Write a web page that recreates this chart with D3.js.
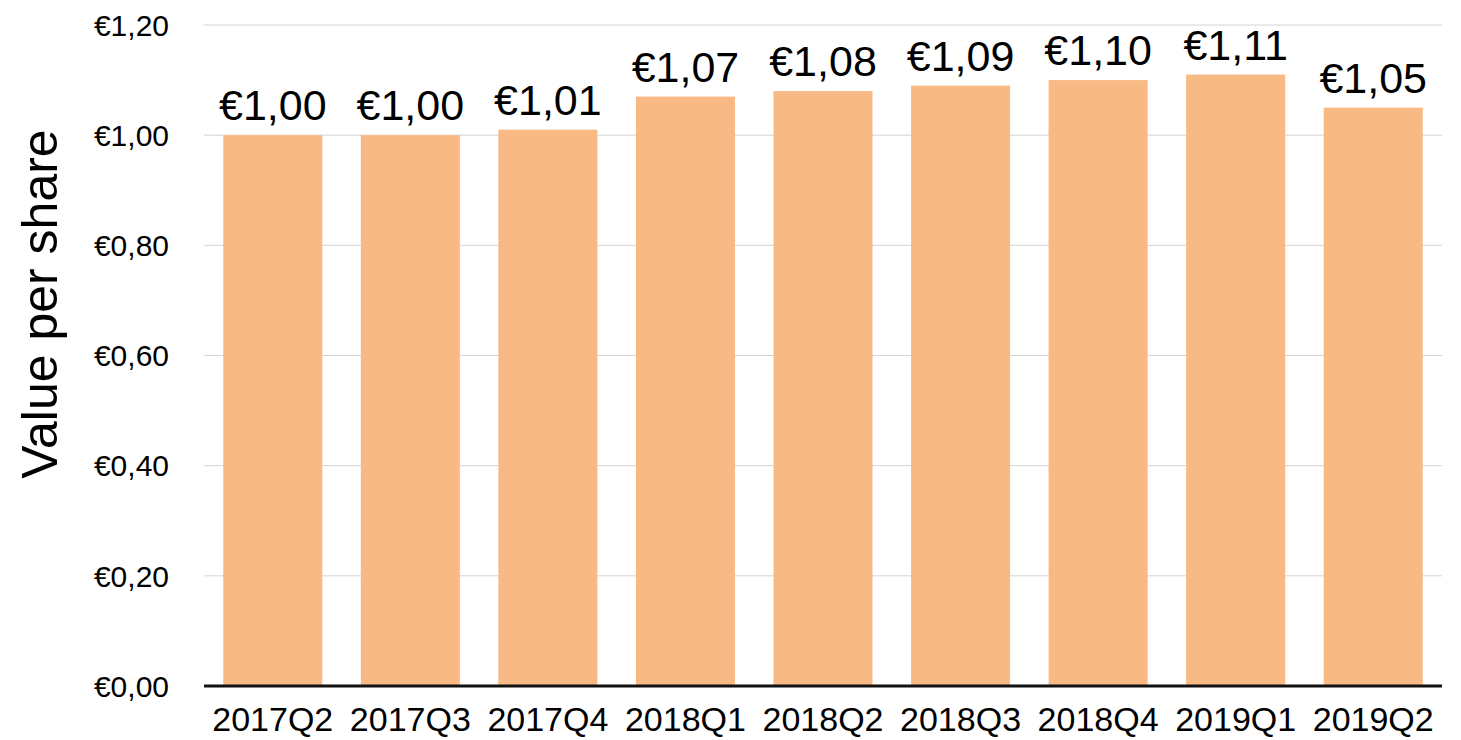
<!DOCTYPE html>
<html>
<head>
  <meta charset="utf-8">
  <title>Value per share</title>
  <style>
    body { margin: 0; background: #fff; }
    text { font-family: "Liberation Sans", Arial, sans-serif; }
  </style>
</head>
<body>
  <script src="https://d3js.org/d3.v7.min.js"></script>
  <script>
    var quarters = ['2017Q2', '2017Q3', '2017Q4', '2018Q1', '2018Q2', '2018Q3', '2018Q4', '2019Q1', '2019Q2'];
    var values = [1.00, 1.00, 1.01, 1.07, 1.08, 1.09, 1.10, 1.11, 1.05];
    var yTicks = [0, 0.2, 0.4, 0.6, 0.8, 1.0, 1.2];

    var width = 1461, height = 740;
    var margin = { top: 25, right: 19, bottom: 54, left: 204 };
    var w = width - margin.left - margin.right,
      h = height - margin.top - margin.bottom;

    var euro = d => '€' + d.toFixed(2).replace('.', ',');

    var x = d3.scaleBand().domain(quarters).range([0, w]).paddingInner(0.28).paddingOuter(0.14);
    var y = d3.scaleLinear().domain([0, 1.2]).range([h, 0]);

    var svg = d3.select('body').append('svg')
      .attr('width', width)
      .attr('height', height);

    var g = svg.append('g').attr('transform', `translate(${margin.left},${margin.top})`);

    // gridlines
    g.selectAll('.grid').data(yTicks).enter().append('line')
      .attr('x1', 0).attr('x2', w)
      .attr('y1', d => y(d)).attr('y2', d => y(d))
      .attr('stroke', '#d4d4d4').attr('stroke-width', 1);

    // y tick labels
    g.selectAll('.ytick').data(yTicks).enter().append('text')
      .attr('x', -35).attr('y', d => y(d)).attr('dy', '0.36em')
      .attr('text-anchor', 'end').attr('font-size', 30)
      .text(euro);

    // bars
    g.selectAll('rect').data(values).enter().append('rect')
      .attr('x', (d, i) => x(quarters[i]))
      .attr('y', d => y(d))
      .attr('width', x.bandwidth())
      .attr('height', d => y(0) - y(d))
      .attr('fill', '#f9b984');

    // value labels
    g.selectAll('.val').data(values).enter().append('text')
      .attr('x', (d, i) => x(quarters[i]) + x.bandwidth() / 2)
      .attr('y', d => y(d) - 15)
      .attr('text-anchor', 'middle').attr('font-size', 43)
      .text(euro);

    // x axis
    g.append('line')
      .attr('x1', 0).attr('x2', w).attr('y1', h).attr('y2', h)
      .attr('stroke', '#111').attr('stroke-width', 3);

    g.selectAll('.xl').data(quarters).enter().append('text')
      .attr('x', d => x(d) + x.bandwidth() / 2)
      .attr('y', h + 45)
      .attr('text-anchor', 'middle').attr('font-size', 34)
      .text(d => d);

    // y axis title
    svg.append('text')
      .attr('transform', 'translate(57,304) rotate(-90)')
      .attr('text-anchor', 'middle').attr('font-size', 50)
      .text('Value per share');
  </script>
</body>
</html>
